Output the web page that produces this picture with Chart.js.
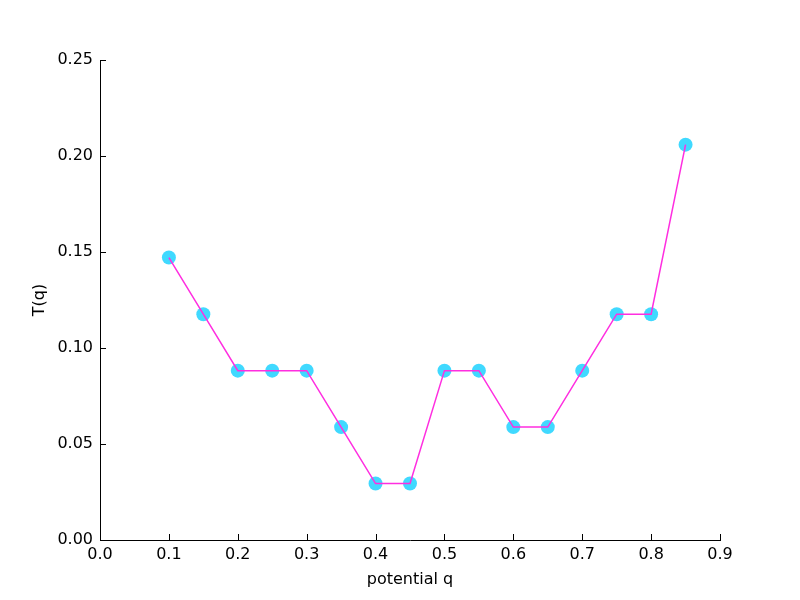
<!DOCTYPE html>
<html>
<head>
<meta charset="utf-8">
<script src="https://cdn.jsdelivr.net/npm/chart.js@4"></script>
<style>
html,body{margin:0;padding:0;background:#fff;}
canvas{display:block;}
</style>
</head>
<body>
<canvas id="c" width="800" height="600"></canvas>
<script>
const qValues = [0.10, 0.15, 0.20, 0.25, 0.30, 0.35, 0.40, 0.45, 0.50, 0.55, 0.60, 0.65, 0.70, 0.75, 0.80, 0.85];
const tValues = [0.1471, 0.1176, 0.0882, 0.0882, 0.0882, 0.0588, 0.0294, 0.0294, 0.0882, 0.0882, 0.0588, 0.0588, 0.0882, 0.1176, 0.1176, 0.2059];
const xTicks = [0.0, 0.1, 0.2, 0.3, 0.4, 0.5, 0.6, 0.7, 0.8, 0.9];
const yTicks = [0.00, 0.05, 0.10, 0.15, 0.20, 0.25];
const xTitle = 'potential q';
const yTitle = 'T(q)';

const pts = qValues.map((q, i) => ({x: q, y: tValues[i]}));
const FONT = 'DejaVu Sans';

const inwardTicks = {
  id: 'inwardTicks',
  afterDraw(chart) {
    const ctx = chart.ctx;
    const xs = chart.scales.x, ys = chart.scales.y;
    const a = chart.chartArea;
    ctx.save();
    ctx.strokeStyle = '#000';
    ctx.lineWidth = 1;
    ctx.beginPath();
    xTicks.forEach(v => {
      const px = Math.round(xs.getPixelForValue(v)) + 0.5;
      ctx.moveTo(px, a.bottom);
      ctx.lineTo(px, a.bottom - 6);
    });
    yTicks.forEach(v => {
      const py = Math.round(ys.getPixelForValue(v)) + 0.5;
      ctx.moveTo(a.left, py);
      ctx.lineTo(a.left + 6, py);
    });
    ctx.stroke();
    ctx.restore();
  }
};

new Chart(document.getElementById('c'), {
  type: 'scatter',
  data: {
    datasets: [
      {
        label: 'line',
        data: pts,
        showLine: true,
        borderColor: '#ff2ee0',
        borderWidth: 1.5,
        pointRadius: 0,
        pointHoverRadius: 0,
        fill: false,
        tension: 0,
        order: 1
      },
      {
        label: 'points',
        data: pts,
        showLine: false,
        pointRadius: 7,
        pointBackgroundColor: 'rgba(0,204,255,0.75)',
        pointBorderColor: 'rgba(0,204,255,0.0)',
        pointBorderWidth: 0,
        order: 2
      }
    ]
  },
  options: {
    responsive: false,
    animation: false,
    devicePixelRatio: 1,
    layout: {padding: {top: 60, right: 80, left: 0, bottom: 0}},
    plugins: {legend: {display: false}, tooltip: {enabled: false}},
    scales: {
      x: {
        type: 'linear',
        min: 0, max: 0.9,
        afterBuildTicks(s) { s.ticks = xTicks.map(v => ({value: v})); },
        afterFit(s) { s.height = 60; },
        grid: {display: true, drawOnChartArea: false, drawTicks: false},
        border: {display: true, color: '#000', width: 1},
        ticks: {
          color: '#000', padding: 5,
          font: {family: FONT, size: 16},
          maxRotation: 0,
          callback: v => Number(v).toFixed(1)
        },
        title: {display: true, text: xTitle, color: '#000', font: {family: FONT, size: 16}, padding: {top: 0, bottom: 11}}
      },
      y: {
        type: 'linear',
        min: 0, max: 0.25,
        afterBuildTicks(s) { s.ticks = yTicks.map(v => ({value: v})); },
        afterFit(s) { s.width = 100; },
        grid: {display: true, drawOnChartArea: false, drawTicks: false},
        border: {display: true, color: '#000', width: 1},
        ticks: {
          color: '#000', padding: 7,
          font: {family: FONT, size: 16},
          callback: v => Number(v).toFixed(2)
        },
        title: {display: true, text: yTitle, color: '#000', font: {family: FONT, size: 16}, padding: {top: 30, bottom: 0}}
      }
    }
  },
  plugins: [inwardTicks]
});
</script>
</body>
</html>
